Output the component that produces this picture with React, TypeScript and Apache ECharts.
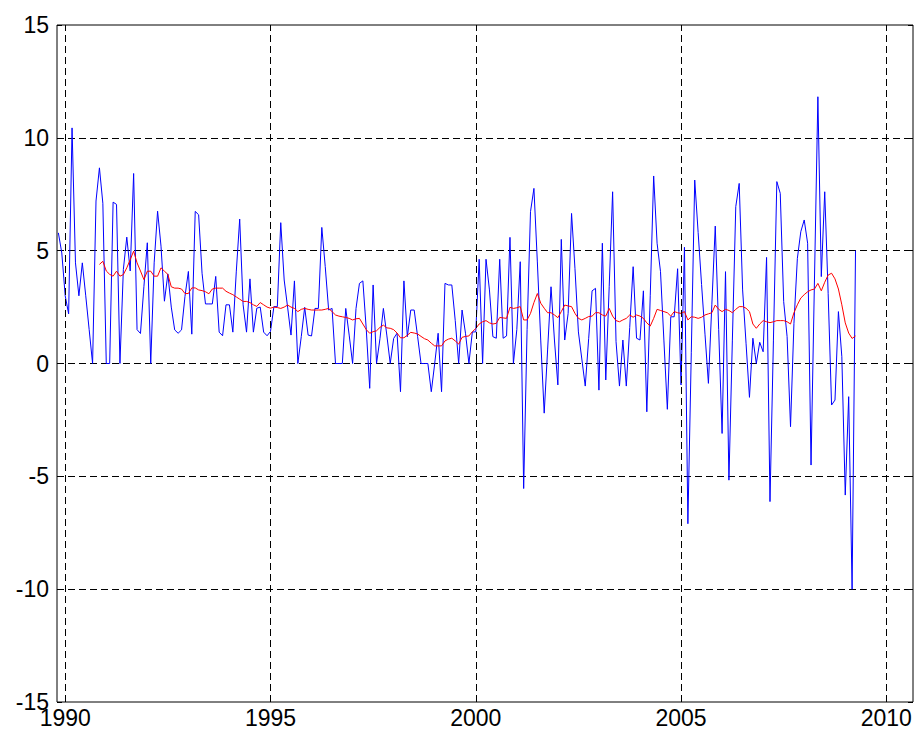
import React, { useEffect, useRef } from "react";
import * as echarts from "echarts";

// Monthly series, first observation November 1989
const START_YEAR = 1989;
const START_MONTH = 11;
// The 12-month moving average starts at this observation index
const MA_START_INDEX = 12;

const monthlyChange: number[] = [
  5.79, 4.9, 3.0, 2.2, 10.44, 4.46, 3.0, 4.46, 3.0, 1.5,
  0, 7.2, 8.67, 7.1, 0, 0, 7.15, 7.05, 0, 4.17,
  5.6, 4.1, 8.42, 1.5, 1.33, 3.4, 5.35, 0, 4.46, 6.75,
  5.2, 2.76, 3.97, 2.5, 1.49, 1.34, 1.49, 2.97, 4.08, 1.3,
  6.74, 6.59, 4.0, 2.64, 2.64, 2.64, 3.86, 1.39, 1.23, 2.6,
  2.6, 1.39, 4.06, 6.4, 2.6, 1.39, 3.75, 1.39, 2.45, 2.5,
  1.39, 1.23, 1.42, 2.52, 2.52, 6.24, 3.7, 2.5, 1.26, 3.66,
  0, 1.19, 2.49, 1.26, 1.22, 2.44, 2.44, 6.03, 4.3, 2.37,
  2.44, 0, 0, 0, 2.44, 1.26, 0, 2.44, 3.55, 3.66,
  1.5, -1.1, 3.48, 0, 1.1, 2.44, 1.26, 0, 1.11, 1.34,
  -1.25, 3.66, 1.19, 2.37, 2.37, 1.2, 0, 0, 0, -1.25,
  0, 1.34, -1.25, 3.55, 3.48, 3.48, 1.9, 0, 2.37, 1.34,
  0, 1.4, 1.4, 4.62, 0, 4.62, 3.26, 1.19, 1.12, 4.62,
  1.12, 1.22, 5.59, 0, 1.5, 4.51, -5.54, 1.5, 6.73, 7.76,
  4.5, 1.0, -2.2, 0.6, 3.4, 1.04, -0.95, 5.5, 1.04, 2.22,
  6.65, 4.2, 1.4, 0.2, -1.0, 1.1, 3.22, 3.33, -1.18, 5.33,
  -0.73, 3.4, 7.61, 0.97, -1.0, 1.04, -1.0, 1.6, 4.29, 1.12,
  1.04, 3.22, -2.14, 3.0, 8.31, 5.33, 4.07, 1.0, -2.03, 2.07,
  2.07, 4.2, -0.95, 5.15, -7.1, 0.5, 8.13, 5.8, 3.5, 1.3,
  -0.88, 2.6, 6.09, 1.5, -3.1, 4.07, -5.17, 1.0, 6.95, 7.98,
  3.26, 0.9, -1.5, 1.12, 0, 0.94, 0.52, 4.7, -6.12, 1.0,
  8.06, 7.54, 2.74, 1.19, -2.8, 1.78, 4.66, 5.84, 6.36, 5.33,
  -4.5, 3.7, 11.82, 3.85, 7.61, 3.11, -1.84, -1.62, 2.3, 0.3,
  -5.83, -1.47, -10.0, 5.0,
];

const movingAverage12: number[] = [
  4.39, 4.53, 4.1, 3.95, 3.87, 4.09, 3.87, 3.94, 4.24, 4.6,
  4.98, 4.46, 4.1, 3.72, 4.09, 4.09, 3.87, 3.87, 4.24, 4.09,
  3.95, 3.4, 3.34, 3.34, 3.3, 3.1, 3.1, 3.35, 3.35, 3.26,
  3.23, 3.18, 3.09, 3.3, 3.34, 3.34, 3.34, 3.2, 3.12, 3.05,
  2.95, 2.85, 2.75, 2.75, 2.7, 2.6, 2.53, 2.7, 2.6, 2.5,
  2.45, 2.5, 2.48, 2.44, 2.5, 2.59, 2.5, 2.44, 2.3, 2.4,
  2.44, 2.4, 2.37, 2.37, 2.37, 2.37, 2.4, 2.44, 2.3, 2.15,
  2.1, 2.07, 2.04, 2.0, 1.93, 1.98, 2.0, 1.75, 1.5, 1.34,
  1.41, 1.45, 1.6, 1.7, 1.58, 1.56, 1.5, 1.35, 1.14, 1.14,
  1.25, 1.38, 1.35, 1.31, 1.2, 1.1, 1.04, 0.9, 0.78, 0.78,
  0.78, 1.0, 1.08, 1.12, 1.0, 0.86, 1.16, 1.2, 1.22, 1.41,
  1.55, 1.75, 1.85, 1.9, 1.8, 1.75, 1.78, 2.04, 2.02, 2.0,
  2.49, 2.44, 2.47, 2.52, 1.93, 1.93, 2.22, 2.7, 3.1, 2.67,
  2.45, 2.25, 2.25, 2.15, 2.03, 2.3, 2.59, 2.55, 2.52, 2.22,
  2.0, 1.93, 2.0, 2.08, 2.1, 2.25, 2.25, 2.15, 2.1, 2.44,
  2.1, 1.9, 1.85, 1.93, 2.0, 2.15, 2.05, 2.15, 2.1, 2.0,
  1.8, 1.66, 2.0, 2.4, 2.35, 2.3, 2.25, 2.1, 2.3, 2.25,
  2.22, 2.3, 1.93, 2.07, 2.05, 2.0, 2.05, 2.15, 2.2, 2.25,
  2.59, 2.4, 2.3, 2.4, 2.35, 2.25, 2.4, 2.52, 2.52, 2.45,
  2.3, 1.75, 1.56, 1.75, 1.9, 1.85, 1.81, 1.85, 1.9, 1.9,
  1.9, 1.85, 1.75, 2.25, 2.6, 2.9, 3.05, 3.18, 3.26, 3.3,
  3.55, 3.22, 3.6, 3.92, 4.0, 3.75, 3.3, 2.6, 1.8, 1.35,
  1.11, 1.22,
];

const xTickYears: number[] = [1990, 1995, 2000, 2005, 2010];
const X_MIN = 1989.8;
const X_MAX = 2010.65;
const Y_MIN = -15;
const Y_MAX = 15;
const Y_STEP = 5;

const toYear = (i: number) => START_YEAR + (START_MONTH - 1 + i) / 12;

export default function App() {
  const ref = useRef<HTMLDivElement>(null);

  useEffect(() => {
    if (!ref.current) return;
    const chart = echarts.init(ref.current, null, { renderer: "svg" });
    const font = "'Liberation Sans', Arial, Helvetica, sans-serif";
    const dash = [7, 4];

    const blueData = monthlyChange.map((v, i) => [toYear(i), v]);
    const redData = movingAverage12.map((v, k) => [toYear(k + MA_START_INDEX), v]);

    chart.setOption({
      animation: false,
      backgroundColor: "#ffffff",
      grid: {
        left: 57,
        right: 5,
        top: 25,
        bottom: 31,
        show: true,
        borderColor: "#000000",
        borderWidth: 1,
        backgroundColor: "transparent",
      },
      xAxis: [
        {
          type: "value",
          min: X_MIN,
          max: X_MAX,
          position: "bottom",
          axisLine: { show: false },
          splitLine: { show: false },
          axisTick: {
            show: true,
            inside: true,
            length: 5,
            customValues: xTickYears,
            lineStyle: { color: "#000" },
          },
          axisLabel: {
            show: true,
            customValues: xTickYears,
            formatter: (v: number) => String(Math.round(v)),
            color: "#000",
            fontSize: 23,
            fontFamily: font,
            margin: 4,
          },
        },
        {
          type: "value",
          min: X_MIN,
          max: X_MAX,
          position: "top",
          axisLine: { show: false },
          splitLine: { show: false },
          axisLabel: { show: false },
          axisTick: {
            show: true,
            inside: true,
            length: 5,
            customValues: xTickYears,
            lineStyle: { color: "#000" },
          },
        },
      ],
      yAxis: [
        {
          type: "value",
          min: Y_MIN,
          max: Y_MAX,
          interval: Y_STEP,
          position: "left",
          axisLine: { show: false },
          axisTick: { show: true, inside: true, length: 5, lineStyle: { color: "#000" } },
          splitLine: {
            show: true,
            showMinLine: false,
            showMaxLine: false,
            lineStyle: { type: dash, color: "#000", width: 1 },
          },
          axisLabel: {
            color: "#000",
            fontSize: 23,
            fontFamily: font,
            margin: 8,
          },
        },
        {
          type: "value",
          min: Y_MIN,
          max: Y_MAX,
          interval: Y_STEP,
          position: "right",
          axisLine: { show: false },
          axisLabel: { show: false },
          splitLine: { show: false },
          axisTick: { show: true, inside: true, length: 5, lineStyle: { color: "#000" } },
        },
      ],
      series: [
        {
          name: "grid",
          type: "line",
          xAxisIndex: 0,
          yAxisIndex: 0,
          data: [[xTickYears[0], 0]],
          symbol: "none",
          lineStyle: { width: 0, opacity: 0 },
          silent: true,
          z: 1,
          markLine: {
            silent: true,
            symbol: ["none", "none"],
            label: { show: false },
            lineStyle: { type: dash, color: "#000", width: 1 },
            data: xTickYears.map((yr) => ({ xAxis: yr })),
          },
        },
        {
          name: "monthly",
          type: "line",
          xAxisIndex: 0,
          yAxisIndex: 0,
          data: blueData,
          symbol: "none",
          showSymbol: false,
          lineStyle: { color: "#0000ff", width: 1 },
          z: 3,
        },
        {
          name: "ma12",
          type: "line",
          xAxisIndex: 0,
          yAxisIndex: 0,
          data: redData,
          symbol: "none",
          showSymbol: false,
          lineStyle: { color: "#ff0000", width: 1 },
          z: 4,
        },
      ],
    });

    return () => chart.dispose();
  }, []);

  return (
    <div
      ref={ref}
      style={{ position: "fixed", left: 0, top: 0, width: 918, height: 733, background: "#fff" }}
    />
  );
}
